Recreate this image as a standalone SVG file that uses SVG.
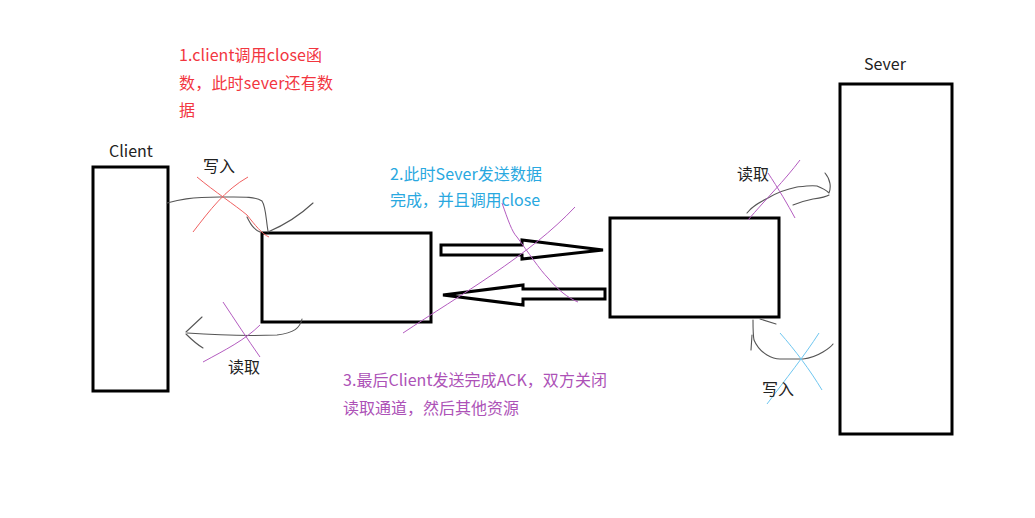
<svg xmlns="http://www.w3.org/2000/svg" width="1035" height="518" viewBox="0 0 1035 518">
<style>
text{font-family:"Noto Sans CJK SC","Noto Sans",sans-serif;font-size:16px}
.box{fill:#fff;stroke:#000;stroke-width:3}
.arr{fill:#fff;stroke:#000;stroke-width:3;stroke-linejoin:miter}
.ink{fill:none;stroke:#555;stroke-width:1.1;stroke-linecap:round;stroke-linejoin:round}
.red{fill:none;stroke:#f06060;stroke-width:1}
.pur{fill:none;stroke:#b45cc0;stroke-width:1}
.blu{fill:none;stroke:#6ec6f0;stroke-width:1}
.lbl{fill:#222}
.t1{fill:#f2363f}
.t2{fill:#29a8e0}
.t3{fill:#ad52b7}
</style>
<rect width="1035" height="518" fill="#fff"/>
<g id="client">
<rect class="box" x="93" y="167" width="75" height="224"/>
<text class="lbl" x="131" y="157" text-anchor="middle">Client</text>
</g>
<g id="client-buffer">
<rect class="box" x="262" y="233" width="169" height="89"/>
</g>
<g id="server-buffer">
<rect class="box" x="610" y="218" width="169" height="99"/>
</g>
<g id="sever">
<rect class="box" x="840" y="84" width="112" height="350"/>
<text class="lbl" x="885" y="70" text-anchor="middle">Sever</text>
</g>
<g id="connectors">
<polygon class="arr" points="441,245 522,245 522,240 603,250 522,259 522,255 441,255"/>
<polygon class="arr" points="443,295 523,285 523,289 605,289 605,299 523,299 523,305"/>
<path class="ink" d="M167,203 C178,200 190,197 220,197 C240,197 255,196 262,201 C266,207 266,220 268,231"/>
<path class="ink" d="M268,232 C282,226 298,217 313,203"/>
<path class="ink" d="M247,217 C250,223 253,229 260,232"/>
<path class="red" d="M193,232 C210,210 225,190 248,177"/>
<path class="red" d="M197,177 C215,192 235,205 247,215 C255,225 262,234 269,237"/>
<path class="ink" d="M302,319 C300,328 294,333 277,335 C250,336 215,335 187,333"/>
<path class="ink" d="M186,332 L202,317"/>
<path class="ink" d="M186,334 C192,340 198,345 203,348"/>
<path class="pur" d="M223,302 C235,320 248,340 260,357"/>
<path class="pur" d="M203,362 C225,350 245,340 260,325"/>
<path class="pur" d="M403,333 C460,295 530,255 575,207"/>
<path class="pur" d="M502,203 C508,220 512,232 517,237 C528,252 540,270 548,278 C558,290 568,298 578,302"/>
<path class="ink" d="M747,213 C752,206 760,202 768,198 C778,192 787,189 797,187 C805,186 812,185 817,186 C822,188 826,190 829,193 C831,188 831,180 825,173"/>
<path class="ink" d="M793,205 C800,202 808,200 813,199 C820,198 826,197 829,195"/>
<path class="pur" d="M748,220 C765,200 785,180 800,160"/>
<path class="pur" d="M768,173 C778,188 788,205 795,218"/>
<path class="ink" d="M753,320 C753,328 753,335 754,340 C757,347 762,352 767,355 C772,358 776,359 780,359 L803,359 C812,358 818,355 823,352 C828,349 831,347 833,344"/>
<path class="ink" d="M752,335 L751,350"/>
<path class="ink" d="M760,319 L776,324"/>
<path class="blu" d="M780,333 C795,350 810,370 822,390"/>
<path class="blu" d="M819,333 C805,355 785,380 767,404"/>
</g>
<g id="labels">
<text class="lbl" x="203" y="172">写入</text>
<text class="lbl" x="228" y="373">读取</text>
<text class="lbl" x="737" y="180">读取</text>
<text class="lbl" x="762" y="395">写入</text>
<text class="t1" x="179" y="61" textLength="143" lengthAdjust="spacing">1.client调用close函</text>
<text class="t1" x="179" y="89" textLength="154" lengthAdjust="spacing">数，此时sever还有数</text>
<text class="t1" x="179" y="116">据</text>
<text class="t2" x="390" y="180" textLength="152" lengthAdjust="spacing">2.此时Sever发送数据</text>
<text class="t2" x="390" y="206" textLength="150" lengthAdjust="spacing">完成，并且调用close</text>
<text class="t3" x="343" y="386" textLength="264" lengthAdjust="spacing">3.最后Client发送完成ACK，双方关闭</text>
<text class="t3" x="343" y="414" textLength="176" lengthAdjust="spacing">读取通道，然后其他资源</text>
</g>
</svg>
